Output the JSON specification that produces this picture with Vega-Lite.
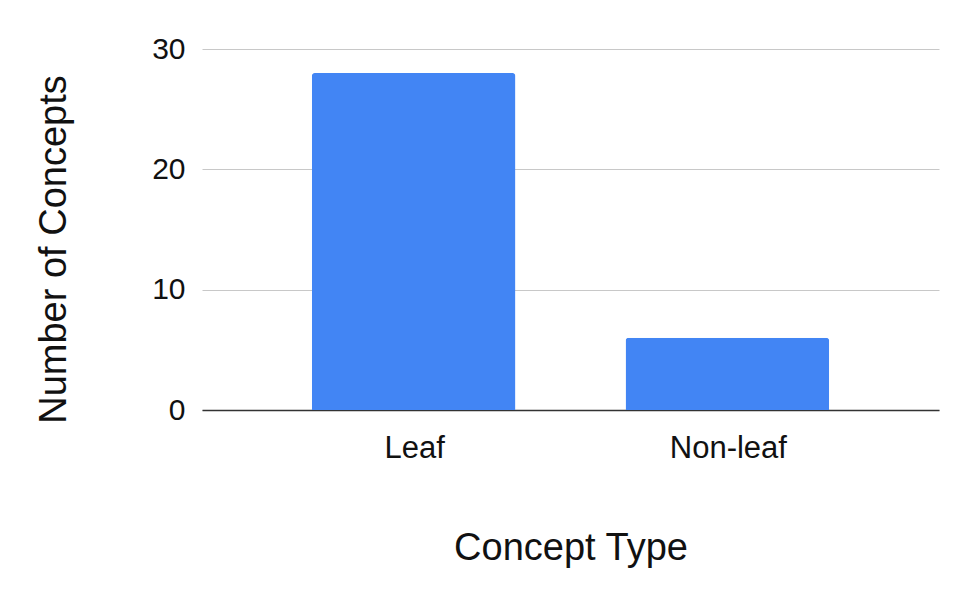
{
  "$schema": "https://vega.github.io/schema/vega-lite/v6.json",
  "autosize": "none",
  "width": 737,
  "height": 361,
  "padding": {"left": 202, "top": 49, "right": 30, "bottom": 189},
  "background": "white",
  "config": {
    "view": {"stroke": null},
    "font": "Liberation Sans",
    "axis": {
      "labelFont": "Liberation Sans",
      "titleFont": "Liberation Sans",
      "labelColor": "#111",
      "titleColor": "#111",
      "titleFontWeight": "normal"
    }
  },
  "data": {
    "values": [
      {"type": "Leaf", "count": 28},
      {"type": "Non-leaf", "count": 6}
    ]
  },
  "mark": {
    "type": "bar",
    "color": "#4285F4",
    "cornerRadiusTopLeft": 3,
    "cornerRadiusTopRight": 3
  },
  "encoding": {
    "x": {
      "field": "type",
      "type": "nominal",
      "sort": null,
      "scale": {"paddingInner": 0.351, "paddingOuter": 0.35},
      "axis": {
        "title": "Concept Type",
        "labelAngle": 0,
        "labelFontSize": 31,
        "labelBaseline": "alphabetic",
        "labelPadding": 47,
        "labelOffset": 1,
        "ticks": false,
        "tickSize": 0,
        "domain": true,
        "domainColor": "#333",
        "domainWidth": 1.5,
        "titleFontSize": 38,
        "titleBaseline": "alphabetic",
        "titleX": 368.5,
        "titleY": 149,
        "titleAnchor": "middle",
        "titleAlign": "center"
      }
    },
    "y": {
      "field": "count",
      "type": "quantitative",
      "scale": {"domain": [0, 30], "nice": false},
      "axis": {
        "title": "Number of Concepts",
        "values": [0, 10, 20, 30],
        "labelFontSize": 30,
        "labelPadding": 17,
        "ticks": false,
        "tickSize": 0,
        "domain": false,
        "gridColor": "#c8c8c8",
        "gridWidth": 1,
        "titleFontSize": 38,
        "titleAngle": -90,
        "titleBaseline": "alphabetic",
        "titleAlign": "center",
        "titleX": -137,
        "titleY": 200
      }
    }
  }
}
